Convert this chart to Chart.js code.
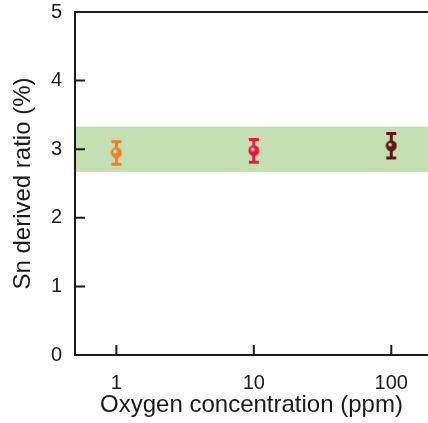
<!DOCTYPE html>
<html>
<head>
<meta charset="utf-8">
<script src="https://cdn.jsdelivr.net/npm/chart.js@4/dist/chart.umd.min.js"></script>
<style>
  html, body { margin: 0; padding: 0; background: #fff; }
  #wrap { width: 428px; height: 423px; }
</style>
</head>
<body>
<div id="wrap"><canvas id="myChart"></canvas></div>
<script>
// data
const oxygenPpm   = [1, 10, 100];
const ratioMean   = [2.95, 2.98, 3.05];
const ratioLow    = [2.78, 2.81, 2.87];
const ratioHigh   = [3.11, 3.14, 3.23];
const pointColors = ['#f0802c', '#f01440', '#6b1212'];
const bandRange   = [2.67, 3.33];
const xTickValues = [1, 10, 100];
const yTickValues = [0, 1, 2, 3, 4, 5];

const FONT = "'Liberation Sans', Arial, sans-serif";
const INK = '#1a1a1a';

// shaded sphere marker
function makeMarker(color) {
    const c = document.createElement('canvas');
    c.width = 12; c.height = 12;
    const g = c.getContext('2d');
    const grad = g.createRadialGradient(4.5, 4.5, 0.5, 6, 6, 6);
    grad.addColorStop(0, '#ffffff');
    grad.addColorStop(0.35, color);
    grad.addColorStop(1, color);
    g.fillStyle = grad;
    g.beginPath();
    g.arc(6, 6, 5.5, 0, Math.PI * 2);
    g.fill();
    return c;
}

const decor = {
    id: 'decor',
    beforeDraw(chart) {
        const { ctx, chartArea: a, scales: { y } } = chart;
        ctx.save();
        ctx.fillStyle = '#c4e0b2';
        const top = y.getPixelForValue(bandRange[1]);
        const bot = y.getPixelForValue(bandRange[0]);
        ctx.fillRect(a.left, top, a.right - a.left, bot - top);
        ctx.restore();
    },
    beforeDatasetsDraw(chart) {
        const { ctx, scales: { x, y } } = chart;
        ctx.save();
        ctx.lineWidth = 3;
        oxygenPpm.forEach((v, i) => {
            const px = x.getPixelForValue(v);
            const hi = y.getPixelForValue(ratioHigh[i]);
            const lo = y.getPixelForValue(ratioLow[i]);
            ctx.strokeStyle = pointColors[i];
            ctx.beginPath();
            ctx.moveTo(px, hi); ctx.lineTo(px, lo);
            ctx.moveTo(px - 5, hi); ctx.lineTo(px + 5, hi);
            ctx.moveTo(px - 5, lo); ctx.lineTo(px + 5, lo);
            ctx.stroke();
        });
        ctx.restore();
    },
    afterDraw(chart) {
        const { ctx, chartArea: a, scales: { x, y } } = chart;
        ctx.save();
        ctx.setTransform(1, 0, 0, 1, 0, 0);
        ctx.strokeStyle = INK;
        ctx.lineWidth = 2;
        ctx.beginPath();
        // frame: top, left, bottom
        ctx.moveTo(a.right, a.top); ctx.lineTo(a.left, a.top);
        ctx.lineTo(a.left, a.bottom); ctx.lineTo(a.right, a.bottom);
        // inward ticks
        yTickValues.forEach(v => {
            const py = y.getPixelForValue(v);
            ctx.moveTo(a.left, py); ctx.lineTo(a.left + 10, py);
        });
        xTickValues.forEach(v => {
            const px = x.getPixelForValue(v);
            ctx.moveTo(px, a.bottom); ctx.lineTo(px, a.bottom - 10);
        });
        ctx.stroke();
        // y tick labels, upright
        ctx.fillStyle = INK;
        ctx.font = '20px ' + FONT;
        ctx.textAlign = 'right';
        ctx.textBaseline = 'middle';
        yTickValues.forEach(v => {
            ctx.fillText(String(v), a.left - 13, y.getPixelForValue(v));
        });
        ctx.restore();
    }
};

new Chart(document.getElementById('myChart'), {
    type: 'scatter',
    data: {
        datasets: [{
            data: oxygenPpm.map((v, i) => ({ x: v, y: ratioMean[i] })),
            pointStyle: pointColors.map(makeMarker),
            pointRadius: 6,
            pointHoverRadius: 6
        }]
    },
    options: {
        responsive: true,
        maintainAspectRatio: false,
        animation: false,
        layout: { autoPadding: false, padding: { top: 12, right: 0, left: 0, bottom: 0 } },
        plugins: { legend: { display: false }, tooltip: { enabled: false } },
        scales: {
            x: {
                type: 'logarithmic',
                min: 0.5,
                max: 185,
                afterBuildTicks: s => { s.ticks = xTickValues.map(v => ({ value: v })); },
                afterFit: s => { s.height = 68; s.paddingLeft = 0; s.paddingRight = 0; },
                grid: { display: false },
                border: { display: false },
                ticks: {
                    color: INK,
                    font: { family: FONT, size: 20 },
                    padding: 8,
                    maxRotation: 0,
                    callback: v => String(v)
                },
                title: {
                    display: true,
                    text: 'Oxygen concentration (ppm)',
                    color: INK,
                    font: { family: FONT, size: 24, lineHeight: 1.2 },
                    padding: { top: 0, bottom: 3 }
                }
            },
            y: {
                min: 0,
                max: 5,
                afterBuildTicks: s => { s.ticks = yTickValues.map(v => ({ value: v })); },
                afterFit: s => { s.width = 75; s.paddingTop = 0; s.paddingBottom = 0; },
                grid: { display: false },
                border: { display: false },
                ticks: { display: false },
                title: {
                    display: true,
                    text: 'Sn derived ratio (%)',
                    color: INK,
                    font: { family: FONT, size: 24, lineHeight: 1.2 },
                    padding: { top: 9, bottom: 0 }
                }
            }
        }
    },
    plugins: [decor]
});
</script>
</body>
</html>
